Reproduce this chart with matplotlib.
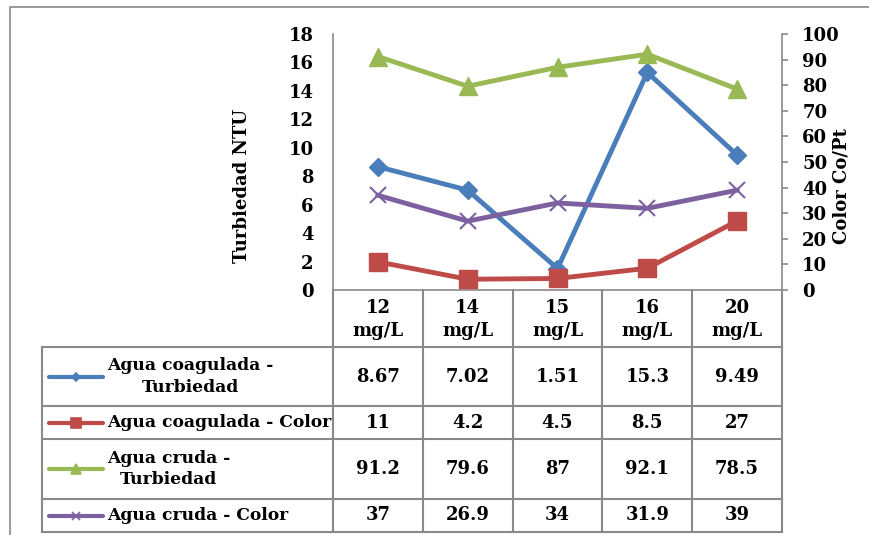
import matplotlib
matplotlib.use("Agg")
import matplotlib.pyplot as plt
from matplotlib.lines import Line2D
from matplotlib.patches import Rectangle
from matplotlib.transforms import blended_transform_factory

# ---- data ----
categories = ["12\nmg/L", "14\nmg/L", "15\nmg/L", "16\nmg/L", "20\nmg/L"]
series_names = ["Agua coagulada -\nTurbiedad", "Agua coagulada - Color",
                "Agua cruda -\nTurbiedad", "Agua cruda - Color"]
coag_turb = [8.67, 7.02, 1.51, 15.3, 9.49]
coag_color = [11, 4.2, 4.5, 8.5, 27]
cruda_turb = [91.2, 79.6, 87, 92.1, 78.5]
cruda_color = [37, 26.9, 34, 31.9, 39]
table_labels = ["8.67", "7.02", "1.51", "15.3", "9.49"], ["11", "4.2", "4.5", "8.5", "27"], \
               ["91.2", "79.6", "87", "92.1", "78.5"], ["37", "26.9", "34", "31.9", "39"]
left_ticks = list(range(0, 19, 2))
right_ticks = list(range(0, 101, 10))

# ---- style ----
plt.rcParams['font.family'] = ['DejaVu Serif']
plt.rcParams['font.weight'] = 'bold'
FS = 13
FS_LEG = 12.3
W, H = 870, 535
GRAY = "#898989"
colors = ["#4A7EBB", "#BE4B48", "#98B954", "#7D60A0"]
markers = ["D", "s", "^", "x"]
msizes = [9, 13.5, 13.5, 12]

def fx(x): return x / W
def fy(y): return 1 - y / H

fig = plt.figure(figsize=(W / 100, H / 100), dpi=100)

# outer border
fig.add_artist(Rectangle((fx(10), fy(H + 20)), 2, fy(7) - fy(H + 20),
                         transform=fig.transFigure, fill=False, edgecolor=GRAY, lw=1.2))

PL, PR, PT, PB = 333, 782, 34, 290
ax = fig.add_axes([fx(PL), fy(PB), (PR - PL) / W, (PB - PT) / H])
ax2 = ax.twinx()
n = len(categories)
xs = list(range(n))
ax.set_xlim(-0.5, n - 0.5)
ax.set_ylim(0, 18)
ax2.set_ylim(0, 100)
ax.set_yticks(left_ticks)
ax2.set_yticks(right_ticks)
ax.set_xticks([])
for a in (ax, ax2):
    for s in a.spines.values():
        s.set_visible(False)
ax.spines['left'].set_visible(True)
ax.spines['left'].set_color(GRAY)
ax.spines['bottom'].set_visible(True)
ax.spines['bottom'].set_color(GRAY)
ax.spines['bottom'].set_linewidth(1.2)
ax.spines['left'].set_linewidth(1.2)
ax2.spines['right'].set_visible(True)
ax2.spines['right'].set_color(GRAY)
ax2.spines['right'].set_linewidth(1.2)
ax.tick_params(axis='y', length=0, pad=14, labelsize=FS)
ax2.tick_params(axis='y', direction='out', length=4.5, width=1.2, color=GRAY, pad=10, labelsize=FS)
for lab in ax.get_yticklabels() + ax2.get_yticklabels():
    lab.set_fontweight('bold')

ax.plot(xs, coag_turb, color=colors[0], lw=3.5, marker=markers[0], ms=msizes[0], clip_on=False)
ax2.plot(xs, coag_color, color=colors[1], lw=3.5, marker=markers[1], ms=msizes[1], clip_on=False)
ax2.plot(xs, cruda_turb, color=colors[2], lw=3.5, marker=markers[2], ms=msizes[2], clip_on=False)
ax2.plot(xs, cruda_color, color=colors[3], lw=3.5, marker=markers[3], ms=msizes[3], mew=1.5, clip_on=False)

fig.text(fx(242), fy(186), "Turbiedad NTU", rotation=90, ha='center', va='center', fontsize=FS, fontweight='bold')
fig.text(fx(842), fy(186), "Color Co/Pt", rotation=90, ha='center', va='center', fontsize=FS, fontweight='bold')

# ---- data table ----
LEG_L = 42
header_bottom = 347
row_bounds = [347, 406, 439, 499, 532]
lw_t = 1.5
blend = blended_transform_factory(ax.transData, fig.transFigure)

def hline(x0, x1, y):
    fig.add_artist(Line2D([fx(x0), fx(x1)], [fy(y), fy(y)], color=GRAY, lw=lw_t))

def vline(x, y0, y1):
    fig.add_artist(Line2D([fx(x), fx(x)], [fy(y0), fy(y1)], color=GRAY, lw=lw_t))

for y in row_bounds:
    hline(LEG_L, PR, y)
vline(LEG_L, header_bottom, row_bounds[-1])
colw = (PR - PL) / n
for i in range(n + 1):
    vline(PL + i * colw, PB, row_bounds[-1])

for i, c in enumerate(categories):
    fig.text(i, fy((PB + header_bottom) / 2 + 1), c, transform=blend, ha='center', va='center',
             fontsize=FS, fontweight='bold', linespacing=1.3)

for r, name in enumerate(series_names):
    yc = (row_bounds[r] + row_bounds[r + 1]) / 2
    fig.add_artist(Line2D([fx(49), fx(103)], [fy(yc), fy(yc)], color=colors[r], lw=3,
                          solid_capstyle='round'))
    fig.add_artist(Line2D([fx(76)], [fy(yc)], color=colors[r], marker=markers[r],
                          ms=msizes[r] * 0.5, mew=1.2))
    fig.text(fx(107), fy(yc), name, ha='left', va='center', multialignment='center',
             fontsize=FS_LEG, fontweight='bold', linespacing=1.35)
    for i, v in enumerate(table_labels[r]):
        fig.text(i, fy(yc), v, transform=blend, ha='center', va='center',
                 fontsize=FS, fontweight='bold')

fig.savefig("out.png", dpi=100)
